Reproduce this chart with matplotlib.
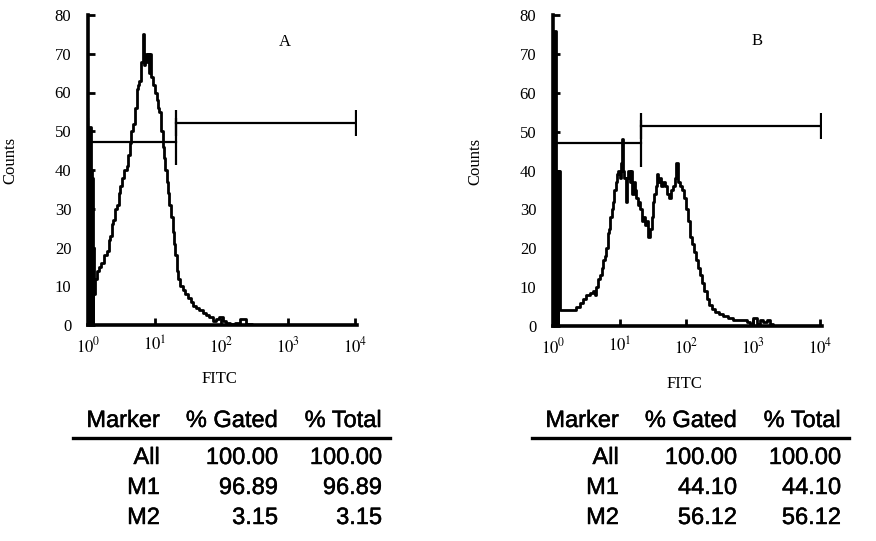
import matplotlib
matplotlib.use("Agg")
import matplotlib.pyplot as plt
import matplotlib.patheffects as pe
from matplotlib.lines import Line2D
import numpy as np

plt.rcParams['font.family'] = ['Liberation Serif', 'DejaVu Serif']
plt.rcParams['mathtext.fontset'] = 'stix'

# histogram A: log10(FITC) channel position and counts
# first bins (log < 0.1) are the dense pile-up drawn as a solid band
a_band = 5
a_log = [0.00, 0.04, 0.06, 0.08, 0.09, 0.10,
         0.11, 0.13, 0.17, 0.20, 0.24, 0.28, 0.31, 0.33, 0.36, 0.38,
         0.41, 0.43, 0.46, 0.48, 0.51, 0.54, 0.58, 0.60, 0.63, 0.65,
         0.68, 0.70, 0.73, 0.75, 0.77, 0.79, 0.81, 0.83, 0.84, 0.86,
         0.88, 0.90, 0.92, 0.93, 0.95, 0.97, 1.00, 1.03, 1.05, 1.07,
         1.10, 1.12, 1.14, 1.16, 1.18, 1.20, 1.22, 1.24, 1.27, 1.29,
         1.31, 1.33, 1.35, 1.38, 1.42, 1.46, 1.50, 1.54, 1.57, 1.62,
         1.67, 1.72, 1.77, 1.82, 1.87, 1.92, 1.97, 2.02, 2.07, 2.12,
         2.20, 2.28, 2.32, 2.36, 2.45, 4.00]
a_counts = [51, 40, 38, 20, 8, 10,
            12, 14, 15, 16, 18, 19, 22, 23, 26, 27,
            30, 31, 34, 36, 38, 40, 41, 44, 47, 50,
            52, 56, 61, 62, 63, 68, 68, 75, 67, 70,
            68, 70, 65, 70, 64, 62, 60, 58, 56, 55,
            50, 46, 43, 40, 37, 34, 31, 28, 24, 21,
            18, 14, 12, 10, 9, 8, 7, 6, 5, 4.5,
            4, 3, 2.5, 2, 1, 1.5, 2, 1, 0.5, 0.3,
            0.5, 1.5, 1.5, 0.3, 0, 0]

# histogram B
b_band = 2
b_log = [0.00, 0.04, 0.10, 0.30,
         0.35, 0.40, 0.45, 0.50, 0.55, 0.60, 0.63, 0.65, 0.68, 0.70,
         0.73, 0.75, 0.78, 0.80, 0.82, 0.84, 0.86, 0.88, 0.90, 0.92,
         0.94, 0.96, 0.98, 1.00, 1.02, 1.03, 1.05, 1.07, 1.09, 1.11,
         1.13, 1.15, 1.17, 1.19, 1.21, 1.23, 1.25, 1.27, 1.29, 1.31,
         1.33, 1.35, 1.38, 1.41, 1.43, 1.46, 1.48, 1.50, 1.52, 1.54,
         1.56, 1.58, 1.60, 1.62, 1.65, 1.68, 1.71, 1.74, 1.77, 1.80,
         1.83, 1.85, 1.87, 1.90, 1.93, 1.96, 1.99, 2.02, 2.05, 2.08,
         2.11, 2.14, 2.17, 2.20, 2.23, 2.26, 2.30, 2.34, 2.38, 2.43,
         2.48, 2.55, 2.62, 2.70, 2.80, 2.90, 2.95, 3.00, 3.05, 3.10,
         3.15, 3.20, 3.25, 3.30, 4.00]
b_counts = [76, 40, 4, 4,
            5, 6, 7, 8, 8.5, 9, 8, 10, 12, 13,
            15, 17, 18, 20, 24, 25, 28, 30, 32, 35,
            37, 39, 40, 38, 42, 48, 40, 38, 32, 38,
            40, 37, 40, 34, 37, 35, 33, 31, 32, 30,
            27, 28, 26, 27, 23, 25, 28, 32, 34, 36,
            39, 37, 38, 36, 37, 36, 34, 33, 35, 36,
            38, 42, 37, 36, 35, 33, 30, 27, 23, 21,
            19, 17, 15, 13, 11, 9, 7, 5.5, 4.5, 3.5,
            3, 2.5, 2, 1.5, 1.5, 1, 0.5, 2, 0.5, 1.5,
            1, 1.5, 0.5, 0, 0]

# marker gates: (start, end, level) in FITC units / counts
a_m1 = (1, 21, 47.3)
a_m2 = (21, 10500, 52.2)
b_m1 = (1, 21, 47.0)
b_m2 = (21, 10500, 51.5)

decade_labels = [r'$10^{0}$', r'$10^{1}$', r'$10^{2}$', r'$10^{3}$', r'$10^{4}$']

table_head = ["Marker", "% Gated", "% Total"]
table_rows = ["All", "M1", "M2"]
a_gated = ["100.00", "96.89", "3.15"]
a_total = ["100.00", "96.89", "3.15"]
b_gated = ["100.00", "44.10", "56.12"]
b_total = ["100.00", "44.10", "56.12"]

W, H = 876, 541
fig = plt.figure(figsize=(W / 100, H / 100), dpi=100)


def draw_panel(rect, logs, counts, nband, m1, m2, letter, letter_pos, ylab_x, xlab_y):
    ax = fig.add_axes(rect)
    x = 10 ** np.array(logs)
    counts = np.array(counts, dtype=float)
    ax.plot(x, counts, drawstyle='steps-post', color='black', lw=2.0)
    # solid pile-up band at the first channels
    ax.fill_between(x[:nband + 1], counts[:nband + 1], step='post',
                    color='black', lw=0)
    ax.set_xscale('log')
    ax.set_xlim(1, 10 ** 4.03)
    ax.set_ylim(0, 80)
    ax.set_xticks([1, 10, 100, 1000, 10000])
    ax.set_xticklabels(decade_labels)
    ax.xaxis.set_minor_locator(matplotlib.ticker.NullLocator())
    ax.set_yticks(range(0, 81, 10))
    ax.tick_params(direction='in', length=5, width=2, labelsize=12, colors='black')
    ax.tick_params(axis='x', pad=8)
    ax.tick_params(axis='y', pad=12)
    for s in ['top', 'right']:
        ax.spines[s].set_visible(False)
    for s in ['left', 'bottom']:
        ax.spines[s].set_linewidth(2.6)
    ax.spines['bottom'].set_bounds(1, 10 ** 4.03)

    # gates
    for (x0, x1, yv), cap in [(m1, 6.0), (m2, 3.4)]:
        ax.plot([x0, x1], [yv, yv], color='black', lw=1.6)
        ax.vlines([x0, x1], yv - cap, yv + cap, color='black', lw=1.6)

    ax.text(letter_pos[0], letter_pos[1], letter, transform=ax.transAxes,
            fontsize=12, ha='center', va='center')
    ax.set_ylabel('Counts', fontsize=12)
    ax.yaxis.set_label_coords(ylab_x, 0.53)
    ax.set_xlabel('FITC', fontsize=12)
    ax.xaxis.set_label_coords(0.49, xlab_y)
    return ax


draw_panel([88 / W, 216 / H, 269 / W, 310 / H], a_log, a_counts, a_band, a_m1, a_m2,
           'A', (0.73, 0.913), -0.26, -0.147)
draw_panel([553 / W, 215 / H, 269 / W, 311 / H], b_log, b_counts, b_band, b_m1, b_m2,
           'B', (0.758, 0.916), -0.26, -0.16)

heavy = [pe.withStroke(linewidth=0.35, foreground='black')]


def draw_table(x_off, gated, total):
    col_right = [160 + x_off, 278 + x_off, 382 + x_off]
    row_y = [458, 488, 518]
    for cx, h in zip(col_right, table_head):
        fig.text(cx / W, 1 - 421 / H, h, ha='right', va='center',
                 fontsize=17, family='Liberation Sans', path_effects=heavy)
    fig.add_artist(Line2D([(73 + x_off) / W, (390 + x_off) / W],
                          [1 - 438 / H, 1 - 438 / H],
                          transform=fig.transFigure, color='black', lw=2.4))
    for i, ry in enumerate(row_y):
        vals = [table_rows[i], gated[i], total[i]]
        for cx, v in zip(col_right, vals):
            fig.text(cx / W, 1 - ry / H, v, ha='right', va='center',
                     fontsize=17, family='Liberation Sans', path_effects=heavy)


draw_table(0, a_gated, a_total)
draw_table(459, b_gated, b_total)

fig.savefig('out.png', dpi=100)
